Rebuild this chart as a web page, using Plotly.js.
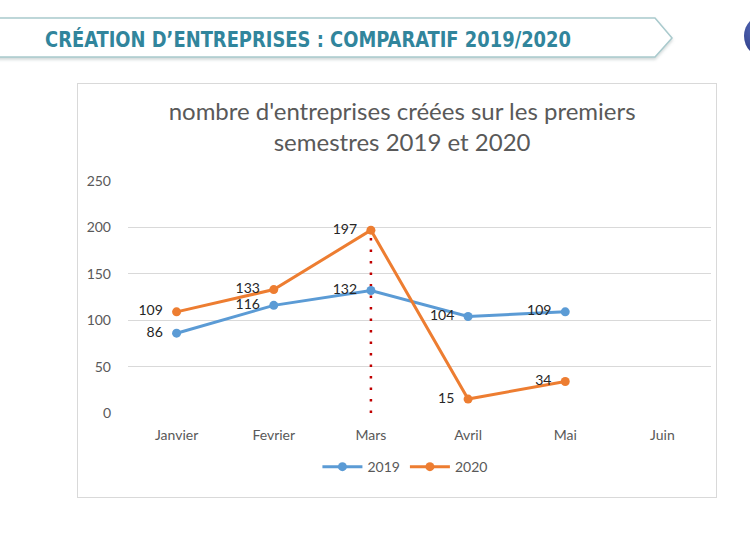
<!DOCTYPE html>
<html>
<head>
<meta charset="utf-8">
<script src="https://cdn.plot.ly/plotly-3.0.1.min.js"></script>
<style>
  html, body { margin: 0; padding: 0; background: #fff; }
  body { width: 750px; height: 536px; position: relative; overflow: hidden; }
  #banner { position: absolute; left: 0; top: 0; }
  #box {
    position: absolute; left: 77px; top: 83px; width: 638px; height: 413px;
    border: 1px solid #d9d9d9;
  }
  #chart { width: 638px; height: 412px; }
</style>
</head>
<body>
<svg id="banner" width="750" height="80">
  <defs>
    <filter id="sh" x="-5%" y="-30%" width="110%" height="160%">
      <feDropShadow dx="0" dy="2" stdDeviation="1.5" flood-color="#9aa" flood-opacity="0.45"/>
    </filter>
    <radialGradient id="ball" cx="0.35" cy="0.35" r="0.8">
      <stop offset="0" stop-color="#5a6fc0"/>
      <stop offset="1" stop-color="#1f2c72"/>
    </radialGradient>
  </defs>
  <polygon points="-5,18 655,18 672,38 655,57 -5,57" fill="#fff" stroke="#a9cacd" stroke-width="1.5" filter="url(#sh)"/>
  <text x="45" y="47" fill="#31859c" font-size="21" font-weight="bold"
        font-family="'Liberation Sans Narrow', 'DejaVu Sans Condensed', sans-serif"
        font-stretch="condensed" textLength="526" lengthAdjust="spacingAndGlyphs">CRÉATION D’ENTREPRISES : COMPARATIF 2019/2020</text>
  <circle cx="766" cy="36" r="22" fill="url(#ball)"/>
</svg>
<div id="box"><div id="chart"></div></div>
<script>
(() => {
  "use strict";

  // données
  const months = ["Janvier", "Fevrier", "Mars", "Avril", "Mai", "Juin"];
  const values2019 = [86, 116, 132, 104, 109];
  const values2020 = [109, 133, 197, 15, 34];
  const markerMonth = "Mars";

  const BLUE = "#5b9bd5";
  const ORANGE = "#ed7d31";
  const FONT = "Lato, 'Open Sans', sans-serif";
  const PAD = "\u00a0\u00a0";

  const markIdx = months.indexOf(markerMonth);

  function series(name, vals, color) {
    return {
      type: "scatter",
      mode: "lines+markers+text",
      name: name,
      x: months.slice(0, vals.length),
      y: vals,
      text: vals.map((v) => String(v) + PAD),
      textposition: "middle left",
      textfont: { family: FONT, size: 14, color: "#262626" },
      line: { color: color, width: 3 },
      marker: { color: color, size: 9 },
      cliponaxis: false,
      hoverinfo: "x+y+name",
    };
  }

  const traces = [
    {
      type: "scatter",
      mode: "lines",
      x: [markerMonth, markerMonth],
      y: [0, values2020[markIdx]],
      line: { color: "#c00000", width: 2.5, dash: "2.5px,9px" },
      showlegend: false,
      hoverinfo: "skip",
    },
    series("2019", values2019, BLUE),
    series("2020", values2020, ORANGE),
  ];

  const layout = {
    width: 638,
    height: 412,
    margin: { l: 50, r: 5, t: 97, b: 83 },
    paper_bgcolor: "#fff",
    plot_bgcolor: "#fff",
    font: { family: FONT, color: "#595959" },
    title: {
      text: "nombre d'entreprises créées sur les premiers<br>semestres 2019 et 2020",
      font: { family: FONT, size: 24, color: "#595959" },
      x: 0.508,
      xanchor: "center",
      y: 0.912,
      yanchor: "middle",
    },
    xaxis: {
      type: "category",
      categoryorder: "array",
      categoryarray: months,
      range: [-0.5, months.length - 0.5],
      showgrid: false,
      showline: false,
      zeroline: false,
      ticks: "",
      ticklabelstandoff: 12,
      tickfont: { family: FONT, size: 14, color: "#595959" },
      fixedrange: true,
    },
    yaxis: {
      range: [0, 250],
      dtick: 50,
      showgrid: true,
      gridcolor: "#d9d9d9",
      gridwidth: 1,
      zeroline: false,
      showline: false,
      ticks: "",
      ticklabelstandoff: 16,
      tickfont: { family: FONT, size: 14, color: "#595959" },
      fixedrange: true,
    },
    showlegend: true,
    legend: {
      orientation: "h",
      x: 0.475,
      xanchor: "center",
      y: -0.233,
      yanchor: "middle",
      font: { family: FONT, size: 14, color: "#595959" },
      itemwidth: 40,
      traceorder: "normal",
    },
  };

  Plotly.newPlot("chart", traces, layout, { displayModeBar: false, staticPlot: true });
})();
</script>
</body>
</html>
